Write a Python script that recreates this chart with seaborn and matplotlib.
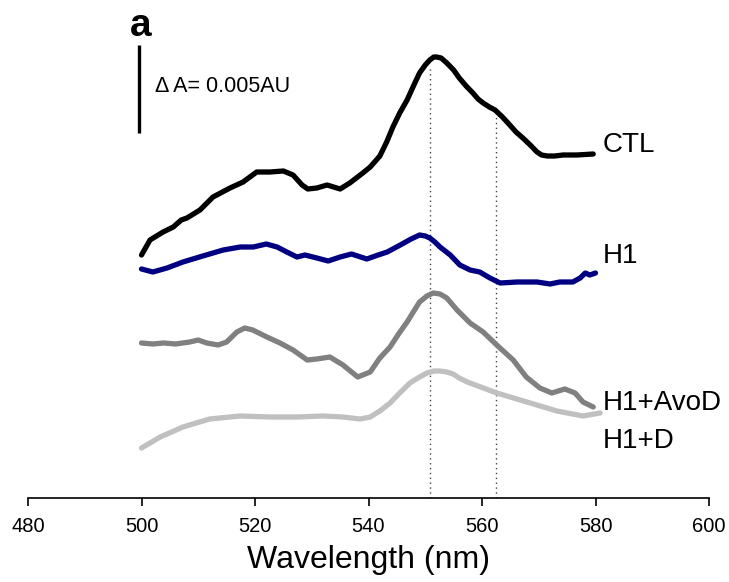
import matplotlib
matplotlib.use("Agg")
import matplotlib.pyplot as plt
import seaborn as sns
import pandas as pd

# Heights (arbitrary offset units; scale bar = 0.005 AU = 88 units)
ctl_wl = [500, 501.5, 503.8, 505.6, 507, 508, 510.3, 512.6, 515.6, 517.9, 520.3, 522.6, 525,
          526.7, 528.3, 529.3, 530.9, 532.7, 535, 536.7, 539, 540.3, 542, 543.2, 544.3, 545.5,
          546.8, 548, 549, 550, 550.8, 551.5, 552, 552.8, 553.8, 555, 556, 557.2, 558.4,
          559.3, 560.2, 561.3, 562.3, 563.6, 564.9, 566, 567.2, 568.5, 569.7, 570.5, 571.5,
          572.8, 574.3, 576.7, 579.6]
ctl_val = [243, 258, 266, 271, 278, 280, 288, 301, 310, 316, 326, 326, 327,
           323, 313, 309, 310, 313, 309, 315, 325, 331, 342, 356, 371, 385,
           398, 413, 425, 433, 438, 441, 441, 440, 435, 428, 420, 412, 405,
           399, 395, 391, 388, 381, 373, 366, 360, 353, 346, 343, 342,
           342, 343, 343, 344]

h1_wl = [500, 502, 504.5, 507.3, 510.8, 514.4, 517.4, 519.7, 522, 523.9, 525.6, 527.4, 528.8,
         530.9, 532.9, 535, 537, 539.7, 541.7, 543.3, 545.6, 547.5, 549, 550, 550.8, 551.7,
         552.6, 554.4, 556.1, 557.9, 559.6, 561.4, 563.2, 566.2, 569.7, 572, 573.7, 576,
         577.3, 578.2, 579, 580]
h1_val = [229, 226, 230, 236, 242, 248, 251, 251, 254, 251, 246, 241, 243,
          240, 237, 241, 244, 239, 243, 246, 253, 259, 263, 262, 260, 256,
          251, 243, 233, 228, 226, 220, 215, 216, 216, 214, 216, 216,
          220, 225, 223, 225]

avod_wl = [500, 502, 503.9, 506, 508.5, 510, 511.5, 513.5, 515, 516.8, 518.2, 519.6, 522.1,
           524.4, 526.7, 529.2, 530.9, 533.2, 535.5, 538.1, 540.3, 542, 543.8, 545.3, 546.8,
           548, 549, 550.3, 551.4, 552.6, 553.8, 555.6, 557.9, 560.2, 562.6, 565.5, 567.8,
           570.2, 572.3, 574.6, 576.4, 577.8, 579.6]
avod_val = [155, 154, 155, 154, 156, 158, 155, 153, 156, 166, 170, 168, 161,
            155, 148, 138, 139, 141, 133, 121, 126, 140, 151, 164, 176,
            187, 196, 202, 205, 204, 200, 188, 175, 166, 153, 138, 121,
            110, 105, 109, 105, 96, 91]

d_wl = [500, 503.3, 507.3, 512, 517.4, 522.6, 527.4, 532, 535.5, 538.5, 540.3, 542, 543.8,
        545.5, 547.3, 549, 550.3, 551.5, 552.6, 553.8, 554.9, 556, 557.4, 562.6, 567.9,
        573.2, 577.8, 580.8]
d_val = [50, 61, 71, 79, 82, 81, 81, 82, 81, 79, 81, 87, 95,
         105, 115, 121, 125, 127, 127, 126, 124, 120, 116, 105, 96,
         87, 82, 85]

samples = ["CTL", "H1", "H1+AvoD", "H1+D"]
colors = ["#000000", "#000080", "#808080", "#c0c0c0"]
label_heights = [346, 235, 88, 50]
x_ticks = [480, 500, 520, 540, 560, 580, 600]
marker_wl = [550.8, 562.4]
marker_top = [431, 381]

frames = []
for name, wl, val in zip(samples, [ctl_wl, h1_wl, avod_wl, d_wl],
                         [ctl_val, h1_val, avod_val, d_val]):
    frames.append(pd.DataFrame({"wavelength": wl, "signal": val, "sample": name}))
df = pd.concat(frames, ignore_index=True)

sns.set_style("ticks")
plt.rcParams["font.family"] = ["Liberation Sans", "DejaVu Sans"]
plt.rcParams["text.color"] = "black"
plt.rcParams["axes.labelcolor"] = "black"
plt.rcParams["xtick.color"] = "black"
plt.rcParams["xtick.labelcolor"] = "black"

fig = plt.figure(figsize=(7.29, 5.82), dpi=100)
ax = fig.add_axes([28 / 729, 84 / 582, 681 / 729, 498 / 582])

for wl, top in zip(marker_wl, marker_top):
    ax.plot([wl, wl], [0, top], color="#444444", lw=1.0, linestyle=(0, (1, 2.5)), zorder=1)

sns.lineplot(data=df, x="wavelength", y="signal", hue="sample", hue_order=samples,
             palette=dict(zip(samples, colors)), estimator=None, sort=False,
             linewidth=3.8, legend=False, ax=ax, zorder=3,
             solid_joinstyle="round", solid_capstyle="round")

for name, h in zip(samples, label_heights):
    ax.text(581.3, h, name, fontsize=20, ha="left", va="baseline", color="black")

# scale bar
ax.plot([499.6, 499.6], [365, 453], color="black", lw=2.4, solid_capstyle="butt")
ax.text(502.3, 406, "Δ A= 0.005AU", fontsize=15.5, ha="left", va="baseline", color="black")
ax.text(499.9, 462, "a", fontsize=28, fontweight="bold", fontfamily="Liberation Sans",
        ha="center", va="baseline", color="black")

ax.set_xlim(480, 600)
ax.set_ylim(0, 498)
ax.set_xticks(x_ticks)
ax.set_xticklabels([str(t) for t in x_ticks], fontsize=14.5, color="black")
ax.set_yticks([])
ax.set_xlabel("Wavelength (nm)", fontsize=23, labelpad=6, color="black")
ax.set_ylabel("")
ax.tick_params(axis="x", direction="out", length=6, width=1.2, pad=8, color="black")
for side in ["left", "top", "right"]:
    ax.spines[side].set_visible(False)
ax.spines["bottom"].set_linewidth(1.2)
ax.spines["bottom"].set_color("black")
ax.patch.set_alpha(0)

fig.savefig("out.png", dpi=100)
